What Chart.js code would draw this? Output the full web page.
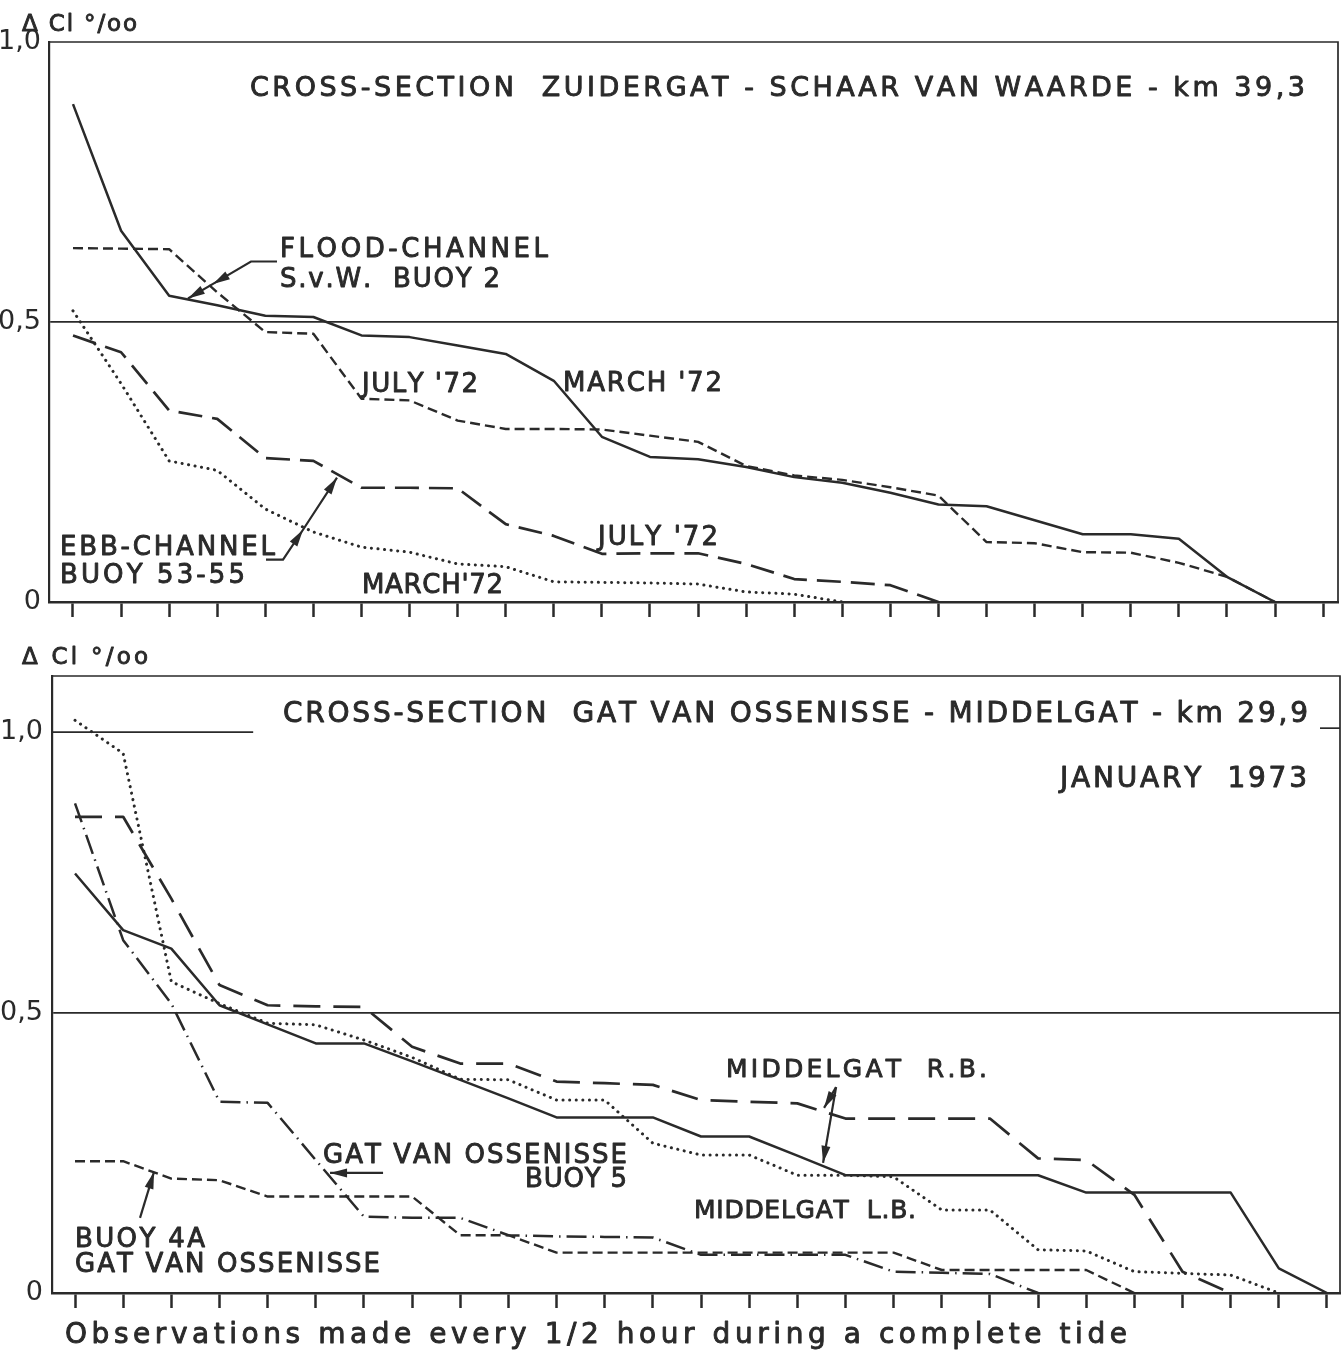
<!DOCTYPE html>
<html>
<head>
<meta charset="utf-8">
<script src="https://cdn.jsdelivr.net/npm/chart.js@4.4.1/dist/chart.umd.min.js"></script>
<style>
  html, body { margin: 0; padding: 0; background: #ffffff; overflow: hidden; }
  #wrap { position: relative; width: 1343px; height: 1350px; background: #ffffff; }
  canvas { position: absolute; left: 0; display: block; }
  #c1 { top: 0; }
  #c2 { top: 640px; }
</style>
</head>
<body>
<div id="wrap">
  <canvas id="c1" width="1343" height="640" style="width:1343px;height:640px"></canvas>
  <canvas id="c2" width="1343" height="710" style="width:1343px;height:710px"></canvas>
</div>
<script>
// ---------- DATA (ΔCl ‰ at half-hour observation steps) ----------
const tideSteps = Array.from({ length: 27 }, (_, i) => i);   // tick positions: observation index
const yTicks = [0, 0.5, 1.0];

// Top panel: Cross-section Zuidergat - Schaar van Waarde (km 39,3)
const floodMarch72 = [0.889, 0.663, 0.547, 0.530, 0.511, 0.509, 0.476, 0.473, 0.458, 0.443, 0.395, 0.295, 0.259,
                      0.255, 0.241, 0.223, 0.213, 0.195, 0.174, 0.171, 0.146, 0.121, 0.121, 0.113, 0.045, 0];
const floodJuly72  = [0.632, 0.631, 0.630, 0.553, 0.482, 0.479, 0.363, 0.360, 0.324, 0.309, 0.309, 0.308, 0.297,
                      0.286, 0.243, 0.226, 0.218, 0.205, 0.190, 0.107, 0.105, 0.089, 0.088, 0.070, 0.045, 0];
const ebbJuly72    = [0.476, 0.446, 0.342, 0.327, 0.257, 0.252, 0.204, 0.204, 0.203, 0.139, 0.118, 0.086, 0.087,
                      0.087, 0.068, 0.041, 0.036, 0.030, 0];
const ebbMarch72   = [0.520, 0.390, 0.252, 0.235, 0.166, 0.125, 0.098, 0.089, 0.068, 0.063, 0.036, 0.035, 0.034,
                      0.032, 0.018, 0.014, 0];

// Bottom panel: Cross-section Gat van Ossenisse - Middelgat (km 29,9), January 1973
const middelgatRBsolid = [0.748, 0.647, 0.614, 0.513, 0.479, 0.445, 0.445, 0.413, 0.380, 0.347, 0.313, 0.313, 0.313,
                          0.279, 0.279, 0.245, 0.210, 0.210, 0.210, 0.210, 0.210, 0.179, 0.179, 0.179, 0.179, 0.044, 0];
const middelgatRBdash  = [0.849, 0.849, 0.703, 0.549, 0.513, 0.511, 0.510, 0.439, 0.409, 0.409, 0.377, 0.374, 0.371,
                          0.344, 0.341, 0.338, 0.311, 0.311, 0.311, 0.311, 0.240, 0.237, 0.175, 0.038, 0];
const middelgatLB      = [1.021, 0.962, 0.555, 0.516, 0.481, 0.478, 0.451, 0.420, 0.381, 0.380, 0.344, 0.344, 0.267,
                          0.246, 0.246, 0.210, 0.210, 0.207, 0.148, 0.148, 0.077, 0.075, 0.038, 0.035, 0.032, 0];
const gatVanOssenisseBuoy5 = [0.873, 0.629, 0.516, 0.341, 0.339, 0.237, 0.136, 0.134, 0.134, 0.103, 0.101, 0.100,
                              0.099, 0.068, 0.068, 0.068, 0.068, 0.038, 0.036, 0.034, 0];
const buoy4A = [0.235, 0.235, 0.204, 0.201, 0.172, 0.172, 0.172, 0.172, 0.103, 0.103, 0.072, 0.072, 0.072, 0.072,
                0.072, 0.072, 0.072, 0.072, 0.041, 0.041, 0.041, 0.041, 0];

// ---------- STYLE ----------
const INK = '#2a2a2a';
const FONT = '"DejaVu Sans", "Liberation Sans", sans-serif';
const STYLE = {
  solid:  { borderDash: [], borderWidth: 2.5, borderCapStyle: 'butt' },
  short:  { borderDash: [10, 5], borderWidth: 2.4, borderCapStyle: 'butt' },
  long:   { borderDash: [24, 10], borderWidth: 2.7, borderCapStyle: 'butt' },
  longer: { borderDash: [27, 13], borderWidth: 2.7, borderCapStyle: 'butt' },
  dots:   { borderDash: [0.1, 6.5], borderWidth: 3.0, borderCapStyle: 'round' },
  dashdot:{ borderDash: [20, 6, 1.5, 6], borderWidth: 2.5, borderCapStyle: 'butt' }
};

function series(label, values, style) {
  return Object.assign({
    label,
    data: values.map((v, i) => ({ x: tideSteps[i], y: v })),
    borderColor: INK,
    pointRadius: 0,
    tension: 0,
    fill: false,
    borderJoinStyle: 'round'
  }, STYLE[style]);
}

// text helper: spreads letters evenly between x1 and x2 (stencil lettering look)
function fitText(ctx, str, x1, x2, baseline, size) {
  ctx.font = size + 'px ' + FONT;
  ctx.textAlign = 'left';
  ctx.textBaseline = 'alphabetic';
  ctx.fillStyle = INK;
  ctx.strokeStyle = INK;
  ctx.lineWidth = 0.9;
  ctx.lineJoin = 'round';
  const chars = [...str];
  const widths = chars.map(c => ctx.measureText(c).width);
  const total = widths.reduce((a, b) => a + b, 0);
  const gap = chars.length > 1 ? (x2 - x1 - total) / (chars.length - 1) : 0;
  let x = x1;
  chars.forEach((c, i) => { ctx.fillText(c, x, baseline); ctx.strokeText(c, x, baseline); x += widths[i] + gap; });
}

function arrowHead(ctx, tip, from) {
  const dx = tip[0] - from[0], dy = tip[1] - from[1];
  const len = Math.hypot(dx, dy) || 1;
  const ux = dx / len, uy = dy / len, nx = -uy, ny = ux;
  const L = 17, W = 4.5;
  ctx.beginPath();
  ctx.moveTo(tip[0], tip[1]);
  ctx.lineTo(tip[0] - ux * L + nx * W, tip[1] - uy * L + ny * W);
  ctx.lineTo(tip[0] - ux * L - nx * W, tip[1] - uy * L - ny * W);
  ctx.closePath();
  ctx.fill();
}

// annotation plugin: frame, labels, arrows
function annotate(opts) {
  return {
    id: 'annot',
    afterDraw(chart) {
      const ctx = chart.ctx, a = chart.chartArea, sx = chart.scales.x, sy = chart.scales.y;
      const P = (p) => [sx.getPixelForValue(p[0]), sy.getPixelForValue(p[1])];
      ctx.save();
      // frame top & right
      ctx.strokeStyle = INK; ctx.lineWidth = 1.7; ctx.setLineDash([]);
      ctx.beginPath();
      ctx.moveTo(a.left, a.top); ctx.lineTo(a.right, a.top); ctx.lineTo(a.right, a.bottom);
      ctx.stroke();
      (opts.extraLines || []).forEach(l => {
        const p1 = P(l[0]), q = P(l[1]);
        ctx.beginPath(); ctx.moveTo(p1[0], p1[1]); ctx.lineTo(q[0], q[1]); ctx.stroke();
      });
      if (opts.rightTick !== undefined) {
        const y = sy.getPixelForValue(opts.rightTick);
        ctx.beginPath(); ctx.moveTo(a.right - 20, y); ctx.lineTo(a.right, y); ctx.stroke();
      }
      // arrows
      ctx.fillStyle = INK; ctx.lineWidth = 2.2;
      (opts.arrows || []).forEach(ar => {
        const pts = ar.pts.map(P);
        ctx.beginPath();
        ctx.moveTo(pts[0][0], pts[0][1]);
        for (let i = 1; i < pts.length; i++) ctx.lineTo(pts[i][0], pts[i][1]);
        ctx.stroke();
        ar.heads.forEach(h => arrowHead(ctx, pts[h], pts[h - 1]));
      });
      // labels
      (opts.texts || []).forEach(t => fitText(ctx, t[0], t[1], t[2], t[3], t[4]));
      ctx.restore();
    }
  };
}

function makeChart(id, datasets, cfg) {
  return new Chart(document.getElementById(id), {
    type: 'line',
    data: { datasets },
    options: {
      responsive: false,
      animation: false,
      devicePixelRatio: 1,
      layout: { padding: { top: cfg.padTop, right: cfg.padRight, left: 0, bottom: 0 } },
      plugins: { legend: { display: false }, tooltip: { enabled: false }, title: { display: false } },
      scales: {
        x: {
          type: 'linear', min: cfg.xMin, max: cfg.xMax,
          afterFit(s) { s.height = cfg.xHeight; },
          afterBuildTicks(s) { s.ticks = tideSteps.map(v => ({ value: v })); },
          ticks: { display: false },
          grid: { display: true, drawOnChartArea: false, drawTicks: true, tickLength: 15, tickColor: INK, tickWidth: 2.5 },
          border: { display: true, color: INK, width: 2.5 }
        },
        y: {
          type: 'linear', min: 0, max: cfg.yMax,
          afterFit(s) { s.width = cfg.yWidth; },
          afterBuildTicks(s) { s.ticks = yTicks.map(v => ({ value: v })); },
          ticks: {
            color: INK, padding: cfg.yPad,
            font: { family: FONT, size: 27, weight: '500' },
            callback: v => v === 0 ? '0' : v.toFixed(1).replace('.', ',')
          },
          grid: {
            drawTicks: false, lineWidth: 1.7,
            color: c => (c.tick && c.tick.value === 0.5) ? INK : 'rgba(0,0,0,0)'
          },
          border: { display: true, color: INK, width: 2.2 }
        }
      }
    },
    plugins: [annotate(cfg.annot)]
  });
}

// ---------- TOP PANEL ----------
makeChart('c1', [
  series('Flood-channel S.v.W. buoy 2 – March \'72', floodMarch72, 'solid'),
  series('Flood-channel S.v.W. buoy 2 – July \'72', floodJuly72, 'short'),
  series('Ebb-channel buoy 53-55 – July \'72', ebbJuly72, 'long'),
  series('Ebb-channel buoy 53-55 – March \'72', ebbMarch72, 'dots')
], {
  padTop: 42, padRight: 5, xHeight: 38, yWidth: 49, yPad: 8, yMax: 1.0,
  xMin: -0.499, xMax: 26.31,
  annot: {
    arrows: [
      { pts: [[4.243, 0.608], [3.702, 0.608], [2.912, 0.568], [2.392, 0.542]], heads: [2, 3] },
      { pts: [[4.014, 0.0755], [4.368, 0.0755], [4.784, 0.129], [5.491, 0.222]], heads: [2, 3] }
    ],
    texts: [
      ['Δ Cl °/oo', 22, 137, 31, 23],
      ['CROSS-SECTION  ZUIDERGAT - SCHAAR VAN WAARDE - km 39,3', 250, 1305, 96, 27],
      ['FLOOD-CHANNEL', 280, 548, 257, 26],
      ['S.v.W.  BUOY 2', 280, 500, 287, 26],
      ["JULY '72", 362, 478, 392, 26],
      ["MARCH '72", 563, 722, 391, 26],
      ['EBB-CHANNEL', 60, 275, 555, 26],
      ['BUOY 53-55', 60, 245, 583, 26],
      ["JULY '72", 598, 718, 545, 26],
      ["MARCH'72", 362, 503, 593, 26]
    ]
  }
});

// ---------- BOTTOM PANEL ----------
makeChart('c2', [
  series('Middelgat R.B. (solid)', middelgatRBsolid, 'solid'),
  series('Middelgat R.B. (dashed)', middelgatRBdash, 'longer'),
  series('Middelgat L.B.', middelgatLB, 'dots'),
  series('Gat van Ossenisse buoy 5', gatVanOssenisseBuoy5, 'dashdot'),
  series('Buoy 4A Gat van Ossenisse', buoy4A, 'short')
], {
  padTop: 36, padRight: 3, xHeight: 57, yWidth: 52, yPad: 9, yMax: 1.1,
  xMin: -0.478, xMax: 26.27,
  annot: {
    extraLines: [[[-0.478, 1.0], [3.7, 1.0]]],
    rightTick: 1.007,
    arrows: [
      { pts: [[15.805, 0.367], [15.556, 0.330]], heads: [1] },
      { pts: [[15.805, 0.367], [15.535, 0.232]], heads: [1] },
      { pts: [[6.397, 0.214], [5.296, 0.214]], heads: [1] },
      { pts: [[1.35, 0.134], [1.641, 0.216]], heads: [1] }
    ],
    texts: [
      ['Δ Cl °/oo', 22, 148, 24, 23],
      ['CROSS-SECTION  GAT VAN OSSENISSE - MIDDELGAT - km 29,9', 283, 1308, 82, 28],
      ['JANUARY  1973', 1060, 1307, 147, 28],
      ['MIDDELGAT  R.B.', 726, 987, 437, 25],
      ['GAT VAN OSSENISSE', 323, 627, 523, 26],
      ['BUOY 5', 525, 627, 547, 26],
      ['MIDDELGAT  L.B.', 694, 916, 578, 25],
      ['BUOY 4A', 75, 205, 607, 26],
      ['GAT VAN OSSENISSE', 75, 380, 632, 26],
      ['Observations made every 1/2 hour during a complete tide', 65, 1127, 703, 28]
    ]
  }
});
</script>
</body>
</html>
